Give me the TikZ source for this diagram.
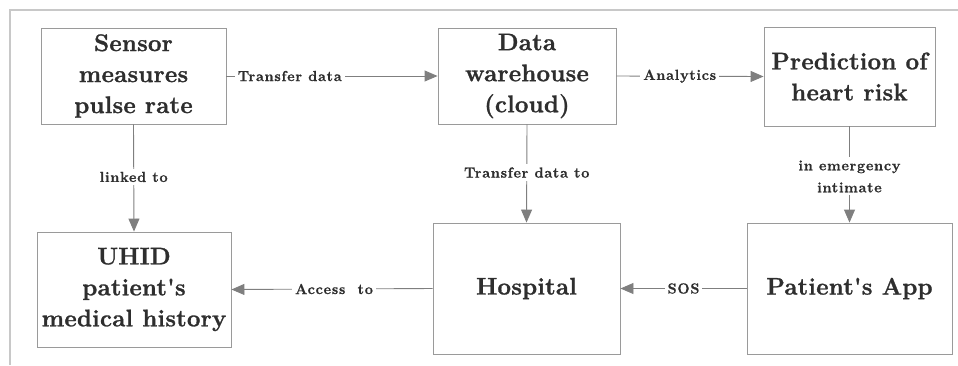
\documentclass[tikz,border=0pt]{standalone}
\usepackage{fontspec}
\newfontfamily\boxfont{Latin Modern Roman}[LetterSpace=1, BoldFeatures={FakeBold=1.2}]
\newfontfamily\labfont{Latin Modern Roman}[LetterSpace=5, BoldFeatures={FakeBold=1}]
\usetikzlibrary{arrows.meta}
\definecolor{edgegrey}{HTML}{7F7F7F}
\definecolor{framegrey}{HTML}{C8C8C8}
\definecolor{boxgrey}{HTML}{9A9A9A}
\definecolor{inkgrey}{HTML}{2E2E2E}
\tikzset{
  blk/.style={draw=boxgrey, line width=0.9pt, inner sep=0pt, align=center,
    text=inkgrey, font=\boxfont\bfseries\fontsize{24}{31}\selectfont},
  lab/.style={fill=white, inner sep=3pt, align=center, text=inkgrey,
    font=\labfont\bfseries\fontsize{14.5}{22}\selectfont},
  conn/.style={draw=edgegrey, line width=0.9pt},
  arr/.style={conn, -{Triangle[length=13pt,width=11pt]}},
}
\begin{document}
\begin{tikzpicture}[x=1pt,y=-1pt]
  \useasboundingbox (0,0) rectangle (958,365);
  % outer frame, open to the right and bottom
  \draw[framegrey, line width=1.2pt] (10,365) -- (10,10) -- (958,10);

  % blocks (corner to corner)
  \node[blk, minimum width=185pt, minimum height=96pt] (sensor) at (133.5,76)
    {Sensor\\measures\\pulse rate};
  \node[blk, minimum width=178pt, minimum height=96pt] (dw) at (527,76)
    {Data\\warehouse\\(cloud)};
  \node[blk, minimum width=171pt, minimum height=99pt] (pred) at (849.5,76.5)
    {Prediction of\\heart risk};
  \node[blk, minimum width=194pt, minimum height=115pt] (uhid) at (134,289.5)
    {UHID\\patient's\\medical history};
  \node[blk, minimum width=187pt, minimum height=131pt] (hosp) at (526.5,288.5)
    {Hospital};
  \node[blk, minimum width=205pt, minimum height=131pt] (app) at (849.5,288.5)
    {Patient's App};

  % connectors
  \draw[arr] (sensor.east) -- (dw.west)
    node[lab, pos=0.3] {Transfer data};
  \draw[arr] (dw.east) -- (pred.west)
    node[lab, pos=0.43] {Analytics};
  \draw[arr] (sensor.south) -- (uhid.north)
    node[lab, pos=0.49] {linked to};
  \draw[arr] (dw.south) -- (hosp.north)
    node[lab, pos=0.49] {Transfer data to};
  \draw[arr] (pred.south) -- (app.north)
    node[lab, pos=0.52] {in emergency\\intimate};
  \draw[arr] (hosp.west) -- (uhid.east)
    node[lab, pos=0.49] {Access\ \ to};
  \draw[arr] (app.west) -- (hosp.east)
    node[lab, pos=0.5] {SOS};
\end{tikzpicture}
\end{document}
